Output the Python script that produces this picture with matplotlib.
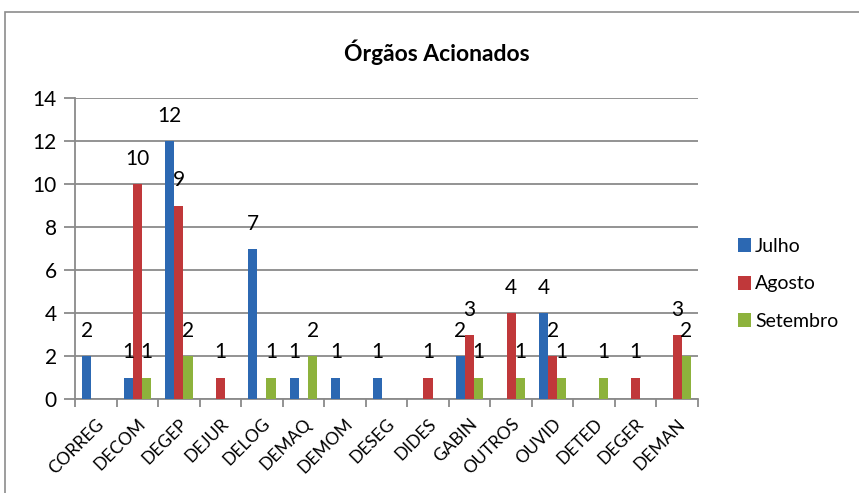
import numpy as np
import matplotlib
matplotlib.use("Agg")
import matplotlib.pyplot as plt
from matplotlib.patches import Rectangle

plt.rcParams['font.family'] = ['Lato', 'DejaVu Sans']

# dados do grafico (None = sem registro)
orgaos = ['CORREG', 'DECOM', 'DEGEP', 'DEJUR', 'DELOG', 'DEMAQ', 'DEMOM', 'DESEG',
          'DIDES', 'GABIN', 'OUTROS', 'OUVID', 'DETED', 'DEGER', 'DEMAN']
julho = [2, 1, 12, None, 7, 1, 1, 1, None, 2, None, 4, None, None, None]
agosto = [None, 10, 9, 1, None, None, None, None, 1, 3, 4, 2, None, 1, 3]
setembro = [None, 1, 2, None, 1, 2, None, None, None, 1, 1, 1, 1, None, 2]
meses = ['Julho', 'Agosto', 'Setembro']
cores = ['#2C68B2', '#C0383A', '#8DB23C']

fig = plt.figure(figsize=(8.59, 4.93), dpi=100)
ax = fig.add_axes([75/859, 1-399/493, 623/859, 301/493])

# moldura externa (so aparecem as bordas de cima e da esquerda)
fig.patches.append(Rectangle((5/859, -0.1), 2, (1-12/493)+0.1, transform=fig.transFigure,
                             fill=False, edgecolor='#8c8c8c', linewidth=1.2))

x = np.arange(len(orgaos))
w = 0.22
series = [julho, agosto, setembro]
for k, (vals, nome, cor) in enumerate(zip(series, meses, cores)):
    h = np.array([np.nan if v is None else v for v in vals], dtype=float)
    pos = x + (k-1)*w
    ax.bar(pos, h, w, color=cor, label=nome, zorder=3, edgecolor='none')
    for px, v in zip(pos, vals):
        if v is None:
            continue
        ax.annotate(str(v), (px, v), xytext=(0, 18), textcoords='offset points',
                    ha='center', va='center', fontsize=15, color='black', zorder=4)

ax.set_xlim(-0.5, len(orgaos)-0.5)
ax.set_ylim(0, 14)
ax.set_yticks(range(0, 15, 2))
ax.yaxis.grid(True, color='#8a8a8a', linewidth=1.3, zorder=0)
ax.tick_params(axis='y', length=8, color='#8a8a8a', width=1.3, labelsize=15, pad=5)

ax.set_xticks(x)
ax.set_xticklabels(orgaos, rotation=45, ha='right', rotation_mode='anchor', fontsize=12.5)
ax.set_xticks(np.arange(-0.5, len(orgaos), 1), minor=True)
ax.tick_params(axis='x', which='major', length=0, pad=12)
ax.tick_params(axis='x', which='minor', length=6, color='#8a8a8a', width=1.3)

for s in ['top', 'right']:
    ax.spines[s].set_visible(False)
for s in ['left', 'bottom']:
    ax.spines[s].set_color('#8a8a8a')
    ax.spines[s].set_linewidth(1.3)

fig.text(437/859, 1-52/493, 'Órgãos Acionados', ha='center', va='center',
         fontsize=16.5, fontweight='bold')

ax.legend(loc='center left', bbox_to_anchor=(720/859, 1-284/493),
          bbox_transform=fig.transFigure, frameon=False, fontsize=14,
          handlelength=0.7, handleheight=0.7, handletextpad=0.2, labelspacing=1.05)

fig.savefig('out.png', dpi=100)
